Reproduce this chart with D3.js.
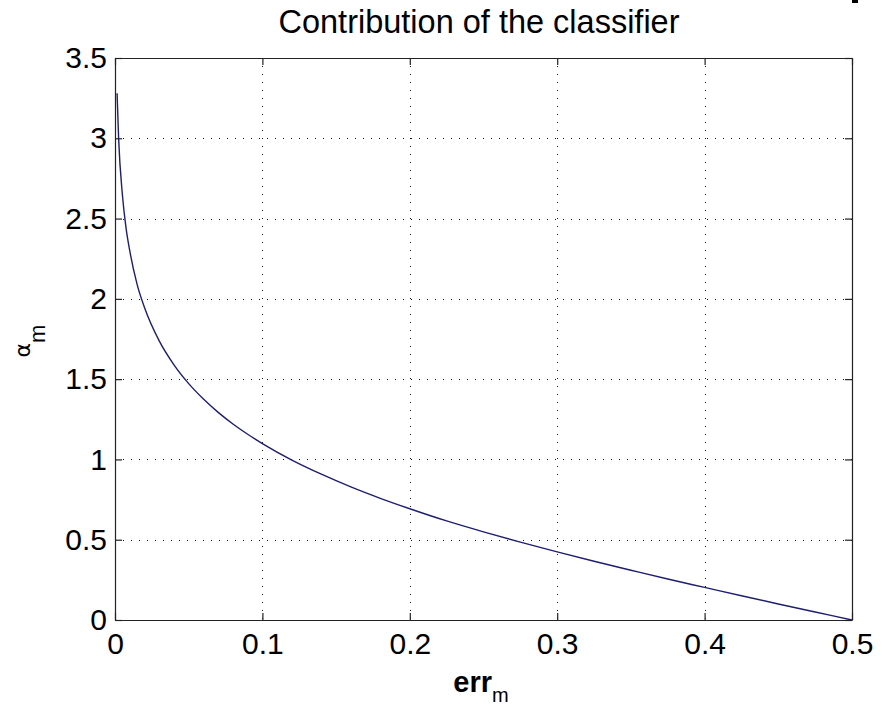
<!DOCTYPE html>
<html>
<head>
<meta charset="utf-8">
<script src="https://cdn.jsdelivr.net/npm/d3@7"></script>
<style>
  html, body { margin: 0; padding: 0; background: #fff; }
  svg { display: block; }
  text { font-family: "Liberation Sans", Arial, Helvetica, sans-serif; fill: #000; }
</style>
</head>
<body>
<svg id="chart" width="887" height="706"></svg>
<script>
// Classifier error rate and the weight (alpha) it receives
const errValues = [0.0014, 0.0025, 0.005, 0.0075, 0.01, 0.015, 0.02, 0.03, 0.04, 0.05,
                   0.06, 0.07, 0.08, 0.09, 0.10, 0.12, 0.14, 0.16, 0.18, 0.20,
                   0.225, 0.25, 0.275, 0.30, 0.325, 0.35, 0.375, 0.40, 0.425, 0.45,
                   0.475, 0.50];
const alphaValues = [3.28, 2.99, 2.65, 2.44, 2.30, 2.09, 1.946, 1.738, 1.589, 1.472,
                     1.376, 1.293, 1.221, 1.157, 1.099, 0.996, 0.908, 0.829, 0.758, 0.693,
                     0.617, 0.549, 0.485, 0.424, 0.366, 0.310, 0.255, 0.203, 0.151, 0.100,
                     0.050, 0.000];
const xTicks = [0, 0.1, 0.2, 0.3, 0.4, 0.5];
const yTicks = [0, 0.5, 1, 1.5, 2, 2.5, 3, 3.5];
const titleText = "Contribution of the classifier";

const svg = d3.select("#chart");
const plotLeft = 115, plotRight = 852, plotTop = 58, plotBottom = 620;

const x = d3.scaleLinear().domain([0, 0.5]).range([plotLeft, plotRight]);
const y = d3.scaleLinear().domain([0, 3.5]).range([plotBottom, plotTop]);
const fmt = d => d3.format("")(d);

// dotted grid
const grid = svg.append("g").attr("stroke", "#111").attr("stroke-width", 1)
  .attr("stroke-dasharray", "1,7");
grid.selectAll("line.gx").data(xTicks.slice(1, -1)).join("line")
  .attr("x1", d => Math.round(x(d)) + 0.5).attr("x2", d => Math.round(x(d)) + 0.5)
  .attr("y1", plotTop).attr("y2", plotBottom);
grid.selectAll("line.gy").data(yTicks.slice(1, -1)).join("line")
  .attr("y1", d => Math.round(y(d)) + 0.5).attr("y2", d => Math.round(y(d)) + 0.5)
  .attr("x1", plotLeft).attr("x2", plotRight);

// curve
const pts = errValues.map((e, i) => [e, alphaValues[i]]);
svg.append("path")
  .datum(pts)
  .attr("fill", "none")
  .attr("stroke", "#1e1e6e")
  .attr("stroke-width", 1.4)
  .attr("d", d3.line().x(d => x(d[0])).y(d => y(d[1])).curve(d3.curveMonotoneX));

// axes with inward ticks on all four sides
function styleAxis(g) {
  g.select(".domain").attr("stroke", "#222").attr("stroke-width", 1.2);
  g.selectAll(".tick line").attr("stroke", "#222").attr("stroke-width", 1.2);
  g.selectAll("text").attr("font-size", 30).attr("fill", "#000")
    .attr("font-family", '"Liberation Sans", Arial, sans-serif');
}
svg.append("g").attr("transform", `translate(0,${plotBottom})`)
  .call(d3.axisBottom(x).tickValues(xTicks).tickFormat(fmt).tickSize(-7).tickSizeOuter(0).tickPadding(13))
  .call(styleAxis);
svg.append("g").attr("transform", `translate(0,${plotTop})`)
  .call(d3.axisTop(x).tickValues(xTicks).tickFormat("").tickSize(-7).tickSizeOuter(0))
  .call(styleAxis);
svg.append("g").attr("transform", `translate(${plotLeft},0)`)
  .call(d3.axisLeft(y).tickValues(yTicks).tickFormat(fmt).tickSize(-7).tickSizeOuter(0).tickPadding(8))
  .call(styleAxis);
svg.append("g").attr("transform", `translate(${plotRight},0)`)
  .call(d3.axisRight(y).tickValues(yTicks).tickFormat("").tickSize(-7).tickSizeOuter(0))
  .call(styleAxis);

// title
svg.append("text")
  .attr("x", 479).attr("y", 33)
  .attr("text-anchor", "middle")
  .attr("font-size", 32.5)
  .text(titleText);

// x label: err with subscript m
const xl = svg.append("text")
  .attr("x", 481).attr("y", 692)
  .attr("text-anchor", "middle")
  .attr("font-size", 29);
xl.append("tspan").attr("font-weight", "bold").text("err");
xl.append("tspan").attr("font-size", 20).attr("dy", 10).text("m");

// y label: alpha with subscript m, rotated
const yl = svg.append("text")
  .attr("transform", "translate(30,341) rotate(-90)")
  .attr("text-anchor", "middle")
  .attr("font-size", 22);
yl.append("tspan").attr("font-family", '"DejaVu Sans", sans-serif').text("α");
yl.append("tspan").attr("font-size", 22).attr("dy", 15).text("m");

// small mark at the top edge
svg.append("rect").attr("x", 852).attr("y", 0).attr("width", 6).attr("height", 3).attr("fill", "#000");
</script>
</body>
</html>
